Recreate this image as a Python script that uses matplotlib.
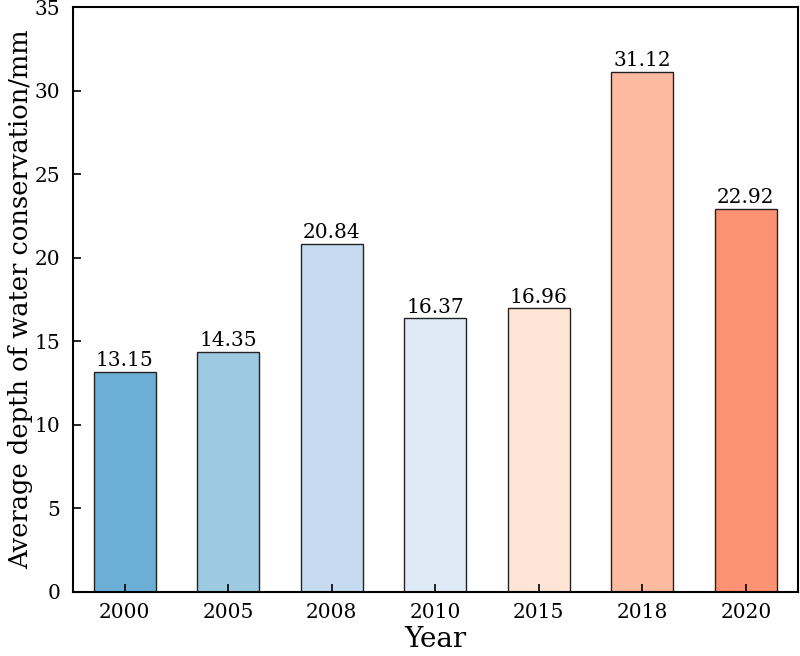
import numpy as np
import matplotlib.pyplot as plt

# data
years = ['2000', '2005', '2008', '2010', '2015', '2018', '2020']
depth = [13.15, 14.35, 20.84, 16.37, 16.96, 31.12, 22.92]
colors = ['#6baed6', '#9ecae1', '#c6dbef', '#deebf7', '#fee5d6', '#fcbba1', '#fc9272']

plt.rcParams['font.family'] = ['DejaVu Serif', 'DejaVu Sans']

fig = plt.figure(figsize=(8, 6.56), dpi=100)
ax = fig.add_axes([0.091, 0.098, 0.906, 0.891])

x = np.arange(len(years))
bars = ax.bar(x, depth, width=0.6, color=colors, edgecolor='#222222', linewidth=1.0)

# value labels on top of bars
for b, v in zip(bars, depth):
    ax.text(b.get_x() + b.get_width() / 2, v + 0.1, f'{v:.2f}',
            ha='center', va='bottom', fontsize=14.5)

ax.set_xlim(-0.5, len(years) - 0.5)
ax.set_ylim(0, 35)
ax.set_xticks(x)
ax.set_xticklabels(years)
ax.set_yticks(np.arange(0, 36, 5))
ax.tick_params(direction='in', length=6, width=1.2, labelsize=14.5)
ax.tick_params(axis='x', pad=8)
ax.tick_params(axis='y', pad=9)
for s in ax.spines.values():
    s.set_linewidth(1.5)

ax.set_xlabel('Year', fontsize=20, labelpad=3)
ax.set_ylabel('Average depth of water conservation/mm', fontsize=18.5, labelpad=1)

fig.savefig('out.png', dpi=100)
